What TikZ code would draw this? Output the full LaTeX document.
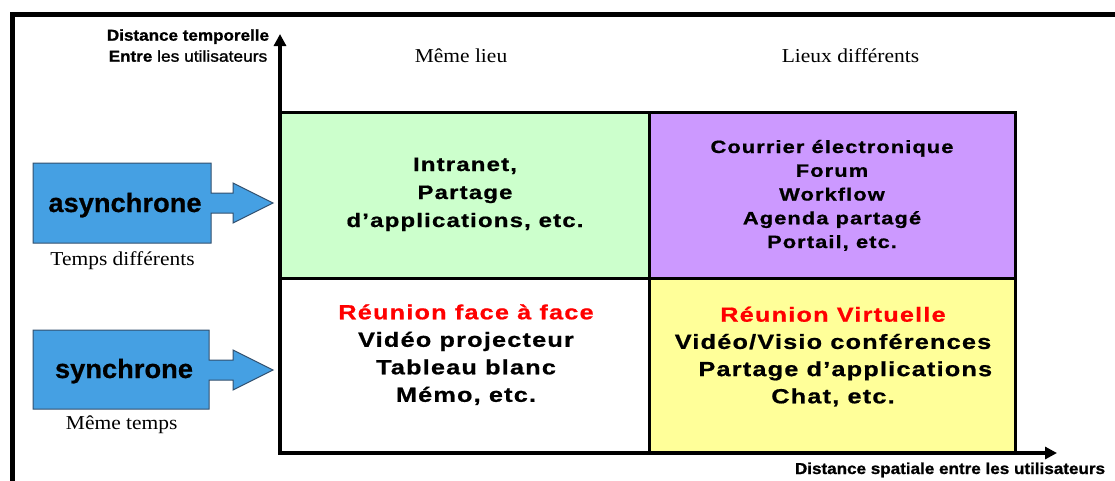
\documentclass[tikz,border=0pt]{standalone}
\usepackage{fontspec}
\setmainfont{Liberation Serif}
\usepackage{tikz}
\usetikzlibrary{arrows.meta}
\usetikzlibrary{positioning}

% fonts
\newfontfamily\cellfont[FakeStretch=1.23,LetterSpace=6,FakeBold=0.8]{Liberation Sans}
\newfontfamily\axisfont[FakeStretch=1.08,FakeBold=1]{Liberation Sans}
\newfontfamily\axismedium[FakeStretch=1.1,FakeBold=1.4]{Liberation Sans}
\newfontfamily\boxfont[FakeStretch=1.03,FakeBold=0.6]{Liberation Sans}
\newfontfamily\placefont[FakeStretch=1.09]{Liberation Serif}

\definecolor{cellgreen}{RGB}{204,255,204}
\definecolor{cellpurple}{RGB}{204,153,255}
\definecolor{cellyellow}{RGB}{255,255,153}
\definecolor{boxblue}{RGB}{69,160,227}
\definecolor{boxedge}{RGB}{50,80,110}

\tikzset{
    celltext/.style={
        align=center,
        inner sep=0pt,
        anchor=base
    },
    cellline/.style={
        draw=black,
        line width=3pt
    },
    axis/.style={
        line width=4pt,
        line cap=rect,
        -{Triangle[length=12pt, width=12pt]}
    },
    axislabel/.style={
        font=\axisfont\bfseries\fontsize{15.8}{20}\selectfont,
        inner sep=0pt,
        anchor=base
    },
    placelabel/.style={
        font=\placefont\fontsize{19.7}{22}\selectfont,
        inner sep=0pt,
        anchor=base
    },
    timebox/.style={
        fill=boxblue,
        draw=boxedge,
        line width=1pt
    },
    boxlabel/.style={
        font=\boxfont\bfseries\fontsize{26.5}{30}\selectfont,
        inner sep=0pt,
        anchor=base
    }
}

\begin{document}
\begin{tikzpicture}[x=1pt, y=-1pt]
  \useasboundingbox (0,0) rectangle (1115,480);

  % Frame
  \draw[line width=4.5pt] (12.5,485) -- (12.5,14.7) -- (1120,14.7);

  % Four cells
  \draw[cellline, fill=cellgreen] (280,112) rectangle (649.5,278);
  \draw[cellline, fill=cellpurple] (649.5,112) rectangle (1015,278);
  \draw[cellline, fill=white] (280,278) rectangle (649.5,453);
  \draw[cellline, fill=cellyellow] (649.5,278) rectangle (1015,453);

  % Axes
  \coordinate (origin) at (280,453);
  \coordinate (ytip) at (280,34);
  \coordinate (xtip) at (1057,453);
  \draw[axis] (origin) -- (ytip);
  \draw[axis] (origin) -- (xtip);

  % Axis labels
  \node[axislabel] (tdist) at (188,40.7) {Distance temporelle};
  \node[axislabel, font=\axismedium\fontsize{15.8}{20}\selectfont] (tusers) at (188,61.7)
    {{\axisfont\bfseries Entre} les utilisateurs};
  \node[axislabel] (sdist) at (950,474) {Distance spatiale entre les utilisateurs};

  % Place labels
  \node[placelabel] (same) at (461,62.7) {Même lieu};
  \node[placelabel] (other) at (850.5,62.7) {Lieux différents};

  % Blue boxes with arrows
  \draw[timebox] (33,163) -- (211,163) -- (211,193) -- (233,193) -- (233,183)
    -- (273,203) -- (233,223) -- (233,213) -- (211,213) -- (211,243) -- (33,243) -- cycle;
  \draw[timebox] (33,330) -- (209,330) -- (209,360) -- (233,360) -- (233,350)
    -- (273,370) -- (233,390) -- (233,380) -- (209,380) -- (209,409) -- (33,409) -- cycle;
  \node[boxlabel] (async) at (125,212) {asynchrone};
  \node[boxlabel] (sync) at (124,378) {synchrone};
  \node[placelabel] (tdiff) at (122.5,265) {Temps différents};
  \node[placelabel] (tsame) at (121.7,429) {Même temps};

  % Cell contents (base = last line)
  \node[celltext, font=\cellfont\bfseries\fontsize{19.5}{28}\selectfont] (intranet) at (465,227)
    {Intranet,\\Partage\\d’applications, etc.};
  \node[celltext, font=\cellfont\bfseries\fontsize{17.8}{23.75}\selectfont] (courrier) at (832,248)
    {Courrier électronique\\Forum\\Workflow\\Agenda partagé\\Portail, etc.};
  \node[celltext, font=\cellfont\bfseries\fontsize{20.5}{27.5}\selectfont] (face) at (466,401.8)
    {\textcolor{red}{Réunion face à face}\\Vidéo projecteur\\Tableau blanc\\Mémo, etc.};
  \node[celltext, font=\cellfont\bfseries\fontsize{20.5}{27.2}\selectfont] (virtual) at (833,403.3)
    {\textcolor{red}{Réunion Virtuelle}\\Vidéo/Visio conférences\\\hspace*{1.2em}Partage d’applications\\Chat, etc.};
\end{tikzpicture}
\end{document}
